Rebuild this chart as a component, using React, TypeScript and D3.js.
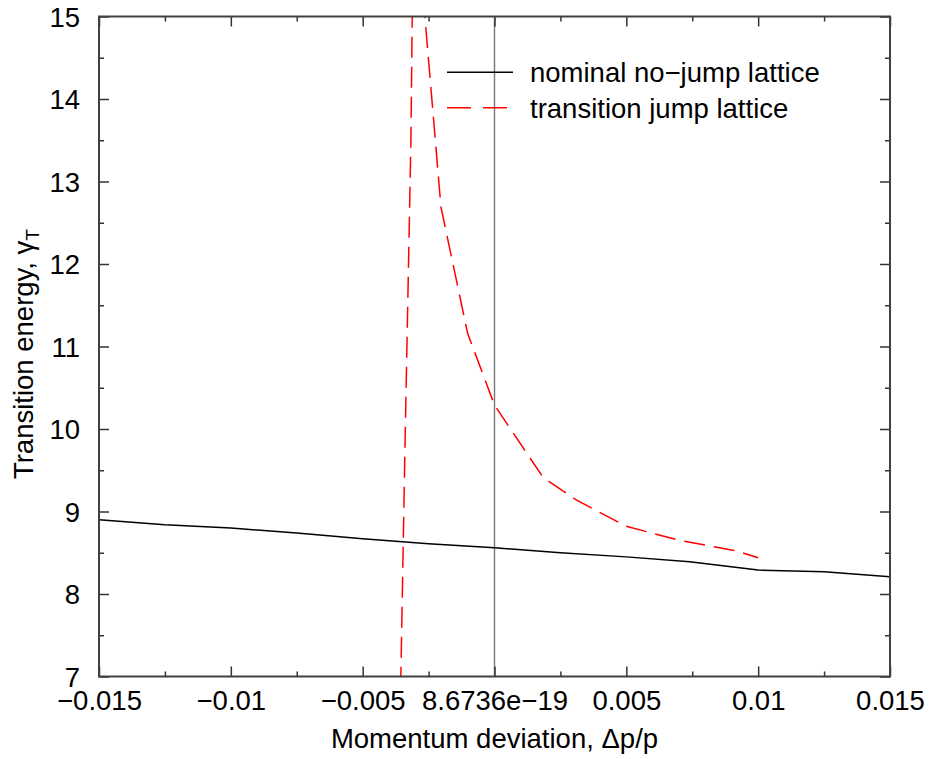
import React, { useRef, useEffect } from "react";
import * as d3 from "d3";

// momentum deviation (dp/p) and transition gamma
const nominalX = [-0.015, -0.0125, -0.01, -0.0075, -0.005, -0.0025, 0, 0.0025, 0.005, 0.0074, 0.01, 0.0125, 0.015];
const nominalY = [8.9, 8.84, 8.8, 8.74, 8.67, 8.61, 8.56, 8.5, 8.45, 8.39, 8.29, 8.27, 8.21];

const jumpX = [-0.00358, -0.00339, -0.00317, -0.00307, -0.0028, -0.00203, -0.00102, 0, 0.00185, 0.0031, 0.005, 0.00703, 0.0092, 0.01];
const jumpY = [6.5, 9.87, 13.5, 16.5, 15.6, 12.69, 11.16, 10.29, 9.41, 9.14, 8.82, 8.65, 8.52, 8.44];

const xTickValues = [-0.015, -0.01, -0.005, 0, 0.005, 0.01, 0.015];
const xTickLabels = ["\u22120.015", "\u22120.01", "\u22120.005", "8.6736e\u221219", "0.005", "0.01", "0.015"];
const xMinorValues = [-0.0125, -0.0075, -0.0025, 0.0025, 0.0075, 0.0125];
const yTickValues = [7, 8, 9, 10, 11, 12, 13, 14, 15];
const yMinorValues = [7.5, 8.5, 9.5, 10.5, 11.5, 12.5, 13.5, 14.5];

const seriesNames = ["nominal no\u2212jump lattice", "transition jump lattice"];

const W = 930;
const H = 759;
const FONT = "'Liberation Sans', Arial, Helvetica, sans-serif";
const FS = 27.5;
const DASH = "21,9";

const App = () => {
  const svgRef = useRef<SVGSVGElement>(null);

  useEffect(() => {
    const margin = { top: 16.5, right: 40, bottom: 82.5, left: 99 };
    const x = d3.scaleLinear().domain([-0.015, 0.015]).range([margin.left, W - margin.right]);
    const y = d3.scaleLinear().domain([7, 15]).range([H - margin.bottom, margin.top]);
    const [x0, x1] = x.range();
    const [y0, y1] = y.range();

    const svg = d3.select(svgRef.current);
    svg.selectAll("*").remove();

    svg.append("rect").attr("width", W).attr("height", H).attr("fill", "white");

    svg
      .append("clipPath")
      .attr("id", "plot-clip")
      .append("rect")
      .attr("x", x0)
      .attr("y", y1)
      .attr("width", x1 - x0)
      .attr("height", y0 - y1);

    // vertical line at zero
    svg
      .append("line")
      .attr("x1", x(0))
      .attr("x2", x(0))
      .attr("y1", y0)
      .attr("y2", y1)
      .attr("stroke", "#777")
      .attr("stroke-width", 1.4);

    const line = d3
      .line<[number, number]>()
      .x((d) => x(d[0]))
      .y((d) => y(d[1]));

    const plot = svg.append("g").attr("clip-path", "url(#plot-clip)");

    plot
      .append("path")
      .datum(nominalX.map((v, i) => [v, nominalY[i]] as [number, number]))
      .attr("fill", "none")
      .attr("stroke", "black")
      .attr("stroke-width", 1.5)
      .attr("d", line);

    plot
      .append("path")
      .datum(jumpX.map((v, i) => [v, jumpY[i]] as [number, number]))
      .attr("fill", "none")
      .attr("stroke", "#ff0000")
      .attr("stroke-width", 1.5)
      .attr("stroke-dasharray", DASH)
      .attr("d", line);

    // axes, ticks point inward on all four sides
    const styleAxis = (g) => {
      g.select(".domain").remove();
      g.selectAll("line").attr("stroke", "#333").attr("stroke-width", 1.5);
    };

    svg
      .append("g")
      .attr("transform", `translate(0,${y0})`)
      .call(d3.axisBottom(x).tickValues(xTickValues).tickSize(-10).tickFormat((d, i) => xTickLabels[i]))
      .call(styleAxis)
      .call((g) =>
        g.selectAll("text").attr("y", 33.5).attr("dy", 0).attr("fill", "black").style("font-family", FONT).style("font-size", `${FS}px`)
      );
    svg
      .append("g")
      .attr("transform", `translate(0,${y0})`)
      .call(d3.axisBottom(x).tickValues(xMinorValues).tickSize(-5).tickFormat(() => ""))
      .call(styleAxis);
    svg
      .append("g")
      .attr("transform", `translate(0,${y1})`)
      .call(d3.axisTop(x).tickValues(xTickValues).tickSize(-10).tickFormat(() => ""))
      .call(styleAxis);
    svg
      .append("g")
      .attr("transform", `translate(0,${y1})`)
      .call(d3.axisTop(x).tickValues(xMinorValues).tickSize(-5).tickFormat(() => ""))
      .call(styleAxis);

    svg
      .append("g")
      .attr("transform", `translate(${x0},0)`)
      .call(d3.axisLeft(y).tickValues(yTickValues).tickSize(-10).tickPadding(19).tickFormat(d3.format("d")))
      .call(styleAxis)
      .call((g) =>
        g.selectAll("text").attr("x", -19).attr("dy", "0.35em").attr("fill", "black").style("font-family", FONT).style("font-size", `${FS}px`)
      );
    svg
      .append("g")
      .attr("transform", `translate(${x0},0)`)
      .call(d3.axisLeft(y).tickValues(yMinorValues).tickSize(-5).tickFormat(() => ""))
      .call(styleAxis);
    svg
      .append("g")
      .attr("transform", `translate(${x1},0)`)
      .call(d3.axisRight(y).tickValues(yTickValues).tickSize(-10).tickFormat(() => ""))
      .call(styleAxis);
    svg
      .append("g")
      .attr("transform", `translate(${x1},0)`)
      .call(d3.axisRight(y).tickValues(yMinorValues).tickSize(-5).tickFormat(() => ""))
      .call(styleAxis);

    // frame
    svg
      .append("rect")
      .attr("x", x0)
      .attr("y", y1)
      .attr("width", x1 - x0)
      .attr("height", y0 - y1)
      .attr("fill", "none")
      .attr("stroke", "#404040")
      .attr("stroke-width", 2);

    // axis titles
    svg
      .append("text")
      .attr("x", (x0 + x1) / 2)
      .attr("y", 748)
      .attr("text-anchor", "middle")
      .style("font-family", FONT)
      .style("font-size", `${FS}px`)
      .text("Momentum deviation, \u0394p/p");

    const yTitle = svg
      .append("text")
      .attr("transform", "translate(33,354) rotate(-90)")
      .attr("text-anchor", "middle")
      .style("font-family", FONT)
      .style("font-size", `${FS}px`);
    yTitle.append("tspan").text("Transition energy, \u03b3");
    yTitle.append("tspan").attr("dy", 6).style("font-size", `${FS * 0.7}px`).text("T");

    // legend
    const legend = svg.append("g");
    seriesNames.forEach((name, i) => {
      const ly = 72.3 + i * 35.5;
      legend
        .append("line")
        .attr("x1", 447)
        .attr("x2", 513)
        .attr("y1", ly)
        .attr("y2", ly)
        .attr("stroke", i === 0 ? "black" : "#ff0000")
        .attr("stroke-width", 1.5)
        .attr("stroke-dasharray", i === 0 ? null : "24,12");
      legend
        .append("text")
        .attr("x", 530)
        .attr("y", ly + 10)
        .style("font-family", FONT)
        .style("font-size", `${FS}px`)
        .text(name);
    });
  }, []);

  return (
    <svg
      ref={svgRef}
      width={W}
      height={H}
      style={{ position: "absolute", left: 0, top: 0, background: "white" }}
    ></svg>
  );
};

export default App;
